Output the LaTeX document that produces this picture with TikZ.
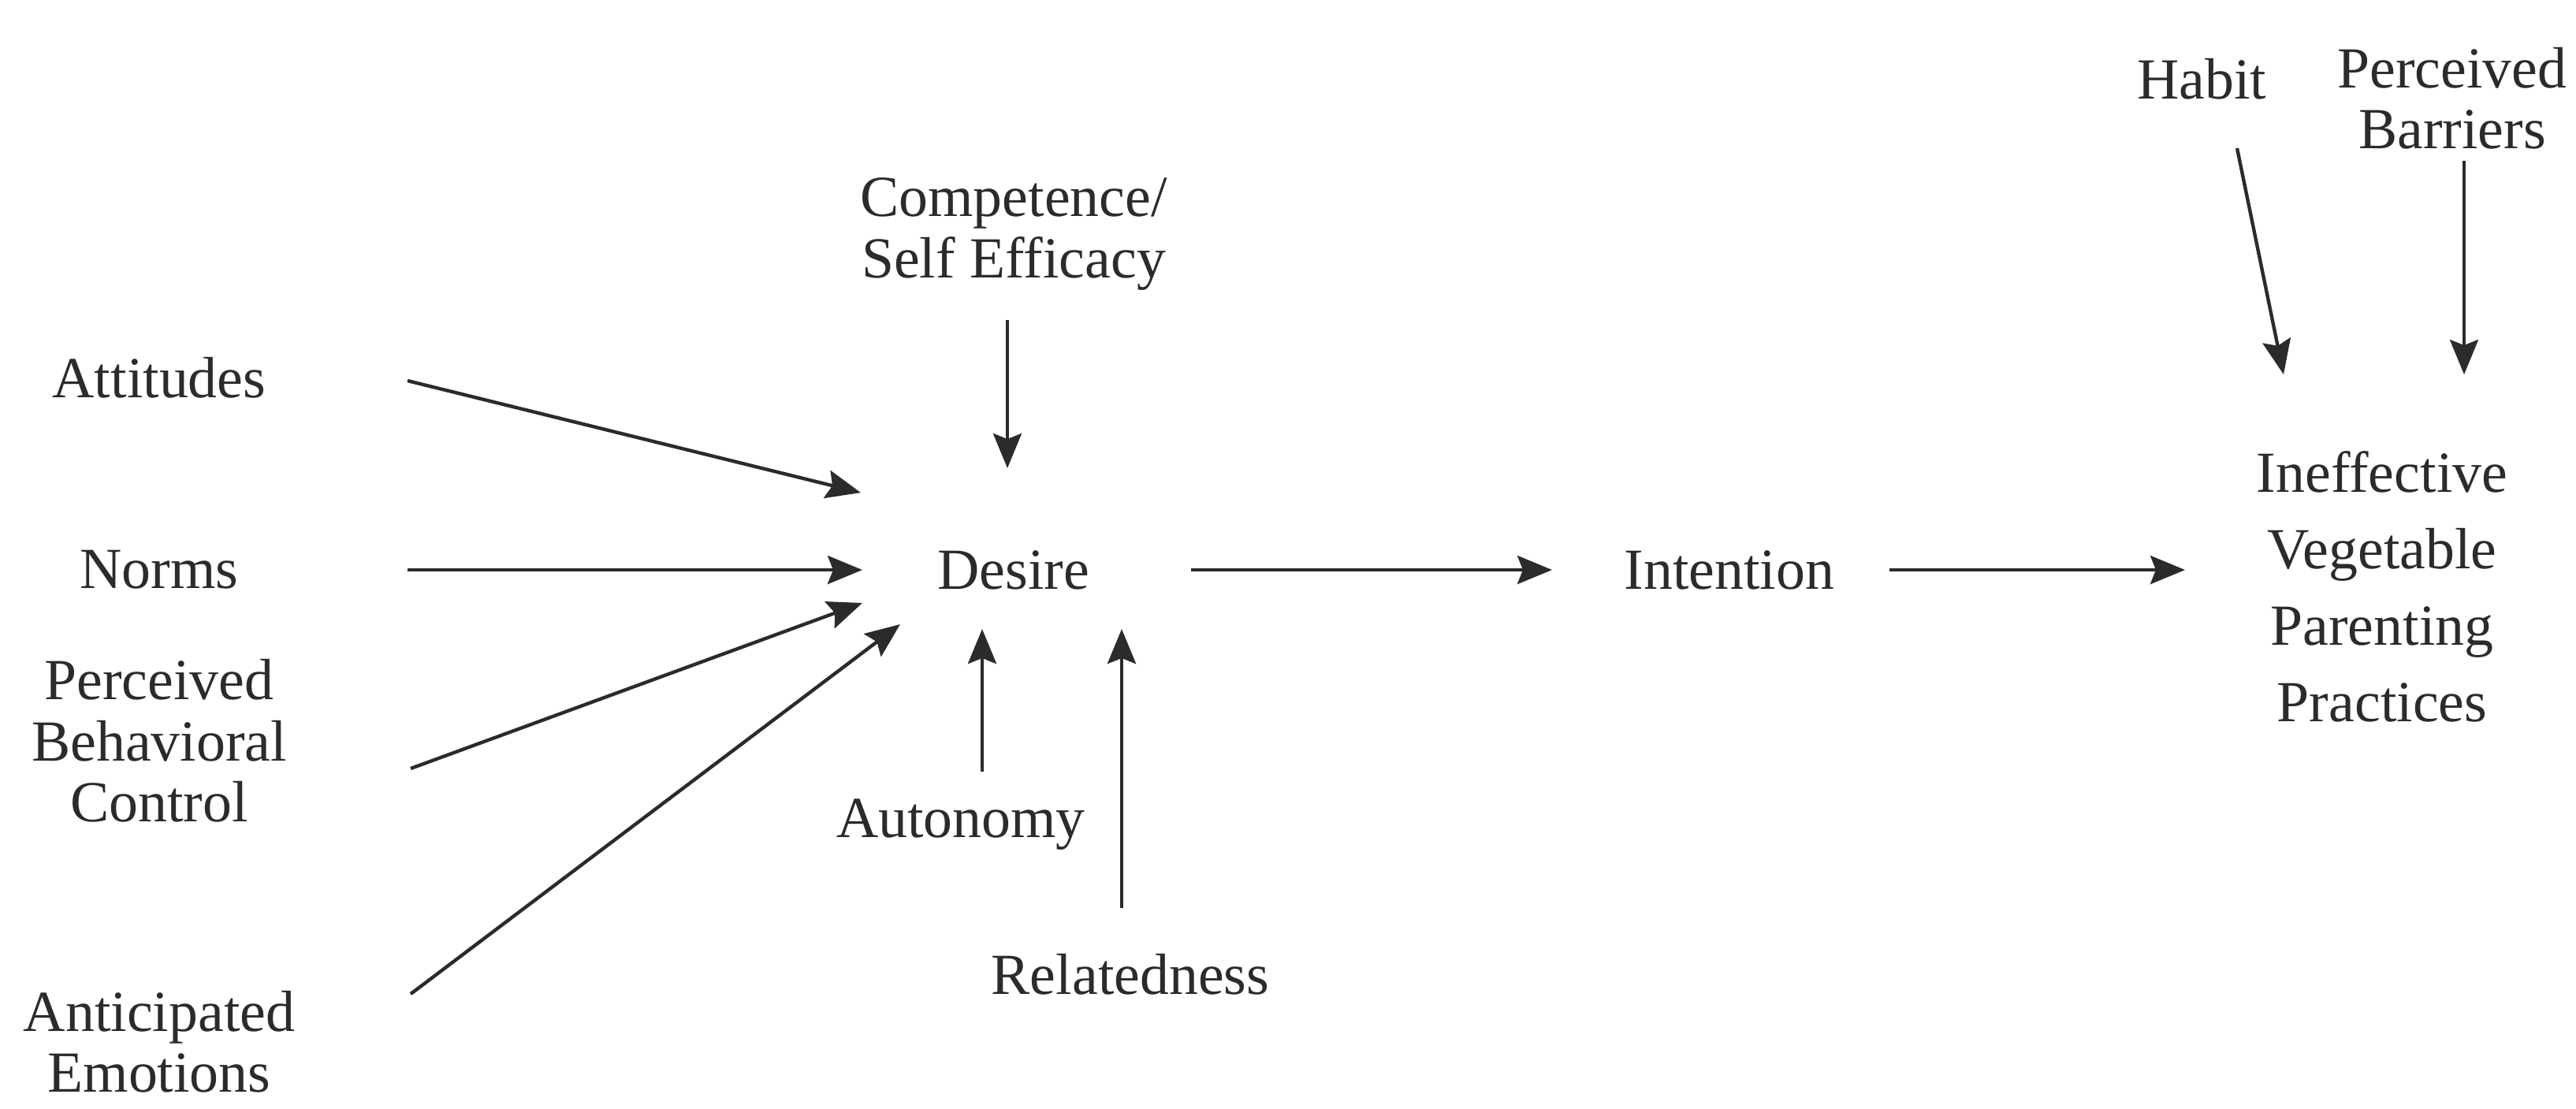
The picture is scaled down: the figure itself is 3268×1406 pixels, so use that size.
\documentclass[tikz,border=0pt]{standalone}
\usepackage{fontspec}
\setmainfont{Liberation Serif}
\usetikzlibrary{arrows.meta}
\definecolor{ink}{HTML}{2B2B2B}
\begin{document}
\begin{tikzpicture}[x=0.1mm,y=-0.1mm,
  lbl/.style={inner sep=0pt, align=center, text=ink,
    font=\fontsize{21pt}{22pt}\selectfont},
  widelbl/.style={lbl, font=\fontsize{21pt}{27.6pt}\selectfont},
  arr/.style={draw=ink, line width=1.25pt,
    -{Stealth[length=4.4mm,width=3.6mm,inset=0.7mm]}}]
\useasboundingbox (0,0) rectangle (3268,1406);

% concepts
\node[lbl] (att)    at (202,479)  {Attitudes};
\node[lbl] (norms)  at (202,723)  {Norms};
\node[lbl] (pbc)    at (202,940)  {Perceived\\Behavioral\\Control};
\node[lbl] (ae)     at (202,1322) {Anticipated\\Emotions};
\node[lbl] (comp)   at (1286,297) {Competence/\\Self Efficacy};
\node[lbl] (desire) at (1286,723) {Desire};
\node[lbl] (auto)   at (1219,1046) {Autonomy};
\node[lbl] (rel)    at (1434,1236) {Relatedness};
\node[lbl] (intent) at (2194,723) {Intention};
\node[widelbl] (ivpp) at (3022,744) {Ineffective\\Vegetable\\Parenting\\Practices};
\node[lbl] (habit)  at (2793,100) {Habit};
\node[lbl] (pb)     at (3111,125) {Perceived\\Barriers};

% arrow end points
\coordinate (attS)  at (517,483);   \coordinate (attE)  at (1092,625);
\coordinate (norS)  at (517,723);   \coordinate (norE)  at (1094,723);
\coordinate (pbcS)  at (521,975);   \coordinate (pbcE)  at (1094,765);
\coordinate (aeS)   at (521,1261);  \coordinate (aeE)   at (1142,792);
\coordinate (comS)  at (1278,406);  \coordinate (comE)  at (1278,594);
\coordinate (autS)  at (1246,979);  \coordinate (autE)  at (1246,798);
\coordinate (relS)  at (1423,1152); \coordinate (relE)  at (1423,798);
\coordinate (desS)  at (1511,723);  \coordinate (desE)  at (1969,723);
\coordinate (intS)  at (2397,723);  \coordinate (intE)  at (2772,723);
\coordinate (habS)  at (2838,188);  \coordinate (habE)  at (2897,475);
\coordinate (pbS)   at (3126,204);  \coordinate (pbE)   at (3126,475);

% influences
\draw[arr] (attS) -- (attE);
\draw[arr] (norS) -- (norE);
\draw[arr] (pbcS) -- (pbcE);
\draw[arr] (aeS)  -- (aeE);
\draw[arr] (comS) -- (comE);
\draw[arr] (autS) -- (autE);
\draw[arr] (relS) -- (relE);
\draw[arr] (desS) -- (desE);
\draw[arr] (intS) -- (intE);
\draw[arr] (habS) -- (habE);
\draw[arr] (pbS)  -- (pbE);
\end{tikzpicture}
\end{document}
